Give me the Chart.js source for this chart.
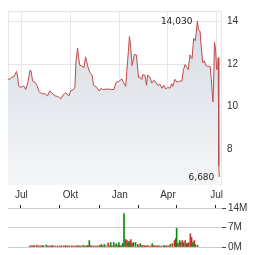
<!DOCTYPE html>
<html lang="de">
<head>
    <meta charset="UTF-8">
    <title>Kurs</title>
    <script src="https://cdn.jsdelivr.net/npm/chart.js"></script>
    <style>
        body {
            margin: 0;
            background: #fff;
        }
        #priceBox {
            position: absolute;
            left: 0;
            top: 0;
            width: 264px;
            height: 205px;
        }
        #volBox {
            position: absolute;
            left: 0;
            top: 200px;
            width: 264px;
            height: 55px;
        }
    </style>
</head>
<body>
    <div id="priceBox"><canvas id="priceChart" width="264" height="205"></canvas></div>
    <div id="volBox"><canvas id="volChart" width="264" height="55"></canvas></div>
    <script>
        // Tage ab 1. Juli
        const monthTicks = [0, 92, 184, 274, 365];
        const monthNames = ['Jul', 'Okt', 'Jan', 'Apr', 'Jul'];

        const priceDays = [-25, -21, -18, -14, -12, -9, -7, -5, -1, 2, 5, 8, 12, 16, 18, 21, 25, 29, 33, 38,
            44, 49, 53, 57, 63, 68, 74, 78, 83, 89, 92, 98, 100, 102, 105, 107, 109, 113, 117, 120,
            124, 128, 132, 135, 141, 145, 149, 152, 160, 169, 173, 177, 182, 188, 191, 195, 197, 200, 202, 204,
            207, 211, 215, 219, 221, 225, 227, 231, 234, 236, 240, 244, 248, 251, 255, 259, 263, 266, 270, 274,
            278, 281, 283, 287, 291, 294, 297, 300, 303, 306, 309, 312, 315, 319, 322, 325, 327, 329, 331, 334,
            336, 339, 342, 345, 348, 350, 353, 355, 358, 359, 361, 363, 365, 367, 368, 369, 370];
        const priceValues = [11.28, 11.3, 11.37, 11.4, 11.5, 11.65, 11.4, 10.96, 10.9, 10.95, 10.95, 10.8, 11.1, 11.7, 11.68, 11.2, 11.15, 11.0, 10.7, 10.6,
            10.6, 10.5, 10.73, 10.64, 10.5, 10.47, 10.36, 10.55, 10.64, 10.5, 10.73, 10.8, 10.9, 12.1, 12.76, 12.3, 11.95, 11.9, 11.83, 12.34,
            11.9, 11.6, 11.5, 11.0, 10.9, 10.73, 10.85, 10.8, 10.82, 10.8, 10.8, 11.14, 11.18, 11.3, 11.12, 10.95, 11.65, 12.6, 13.3, 12.9,
            11.93, 12.45, 12.43, 11.37, 11.4, 11.27, 11.5, 11.47, 11.0, 11.48, 11.4, 11.1, 11.24, 11.15, 11.0, 11.05, 10.86, 11.0, 10.83, 10.9,
            10.86, 11.07, 10.95, 11.28, 11.14, 11.18, 11.2, 11.2, 11.74, 11.97, 11.85, 11.74, 12.43, 12.25, 13.2, 13.1, 13.5, 14.03, 13.6, 13.55,
            12.85, 12.06, 12.15, 11.93, 11.9, 11.9, 11.88, 11.3, 10.22, 10.8, 13.03, 12.67, 11.74, 11.83, 12.3, 7.2, 6.68];
        const priceTicks = [8, 10, 12, 14];

        // Umsatz in Mio. Stück
        const upDays = [-15, 6, 14, 28, 60, 89, 100, 110, 115, 140, 143, 150, 165, 172, 178, 184, 185, 193, 196, 206,
            210, 218, 223, 234, 246, 262, 275, 290, 304, 317, 319, 326, 335, 344, 357, 363];
        const upVol = [0.4, 0.4, 0.7, 0.4, 0.4, 0.4, 0.6, 0.4, 2.3, 0.4, 0.9, 0.9, 1.6, 1.6, 1.2, 1.6, 0.4, 1.3, 12, 1.6,
            0.4, 1.6, 1.6, 1.2, 0.4, 1.2, 0.4, 0.4, 0.9, 3.0, 6.7, 2.3, 1.6, 1.2, 1.6, 0.9];
        const downDays = [-24, -21, -17, -13, -8, -4, 0, 4, 8, 18, 22, 26, 31, 36, 41, 46, 50, 55, 59, 64,
            68, 73, 77, 82, 86, 91, 95, 104, 108, 112, 117, 121, 125, 130, 134, 138, 146, 154, 159, 162,
            168, 175, 181, 187, 190, 200, 203, 208, 212, 215, 228, 230, 237, 240, 244, 250, 253, 258, 265, 268,
            272, 278, 283, 288, 292, 296, 300, 309, 314, 322, 328, 332, 339, 342, 347, 351, 354, 360, 368];
        const downVol = [0.4, 0.4, 0.4, 0.4, 0.6, 0.4, 0.4, 0.4, 0.4, 0.4, 0.4, 0.4, 0.4, 0.4, 0.4, 0.4, 0.4, 0.4, 0.4, 0.4,
            0.4, 0.4, 0.4, 0.4, 0.4, 0.4, 0.4, 0.4, 0.4, 0.4, 0.5, 0.4, 0.4, 0.4, 0.4, 0.4, 0.4, 0.4, 1.4, 0.4,
            0.4, 0.4, 0.4, 0.4, 0.5, 2.7, 2.3, 2.0, 2.7, 1.3, 0.9, 0.4, 0.4, 0.6, 0.4, 0.5, 0.4, 0.4, 0.4, 0.5,
            0.4, 0.4, 0.4, 0.4, 0.4, 0.5, 0.4, 1.2, 2.3, 1.2, 1.6, 2.3, 2.3, 1.2, 1.6, 4.7, 3.4, 2.3, 0.6];
        const volTicks = [0, 7, 14];

        const axisFont = { family: 'Liberation Sans, Arial, sans-serif', size: 10 };

        function points(days, values) {
            return days.map((d, i) => ({ x: d, y: values[i] }));
        }

        // Rahmen um die Zeichenfläche
        const frame = {
            id: 'frame',
            beforeDatasetsDraw(chart, args, opts) {
                const a = chart.chartArea;
                const c = chart.ctx;
                c.save();
                c.strokeStyle = opts.color;
                c.lineWidth = 1;
                c.strokeRect(a.left + 0.5, a.top + 0.5, a.right - a.left - 1, a.bottom - a.top - 1);
                c.restore();
            }
        };

        // Hoch / Tief beschriften
        const extremes = {
            id: 'extremes',
            afterDatasetsDraw(chart) {
                const xs = chart.scales.x;
                const ys = chart.scales.y;
                const hi = priceValues.indexOf(Math.max(...priceValues));
                const lo = priceValues.indexOf(Math.min(...priceValues));
                const c = chart.ctx;
                c.save();
                c.fillStyle = '#222';
                c.font = '9px "DejaVu Sans", sans-serif';
                c.textAlign = 'right';
                c.textBaseline = 'middle';
                [hi, lo].forEach(i => {
                    const label = priceValues[i].toFixed(3).replace('.', ',');
                    c.fillText(label, xs.getPixelForValue(priceDays[i]) - 5, ys.getPixelForValue(priceValues[i]) + 1);
                });
                c.restore();
            }
        };

        new Chart(document.getElementById('priceChart'), {
            type: 'line',
            data: {
                datasets: [{
                    data: points(priceDays, priceValues),
                    borderColor: '#c2494a',
                    borderWidth: 1,
                    pointRadius: 0,
                    tension: 0,
                    fill: 'start',
                    backgroundColor: function(context) {
                        const area = context.chart.chartArea;
                        if (!area) return '#e3e7eb';
                        const g = context.chart.ctx.createLinearGradient(0, area.top, 0, area.bottom);
                        g.addColorStop(0, '#d3dae1');
                        g.addColorStop(1, '#f5f6f8');
                        return g;
                    }
                }]
            },
            options: {
                responsive: false,
                animation: false,
                layout: { padding: { left: 8, top: 7, right: 0, bottom: 0 } },
                plugins: {
                    legend: { display: false },
                    tooltip: { enabled: false },
                    frame: { color: '#e6e6e6' }
                },
                scales: {
                    x: {
                        type: 'linear',
                        min: -25,
                        max: 375,
                        afterBuildTicks: s => { s.ticks = monthTicks.map(v => ({ value: v })); },
                        afterFit: s => { s.height = 20; },
                        grid: { color: '#e6e6e6', drawTicks: false },
                        border: { display: false },
                        ticks: {
                            padding: 4,
                            color: '#333',
                            font: axisFont,
                            maxRotation: 0,
                            callback: v => monthNames[monthTicks.indexOf(v)]
                        }
                    },
                    y: {
                        position: 'right',
                        min: 6.3,
                        max: 14.5,
                        afterBuildTicks: s => { s.ticks = priceTicks.map(v => ({ value: v })); },
                        afterFit: s => { s.width = 42; },
                        grid: { color: '#e6e6e6', drawTicks: false },
                        border: { display: false },
                        ticks: { padding: 5, color: '#333', font: axisFont }
                    }
                }
            },
            plugins: [frame, extremes]
        });

        new Chart(document.getElementById('volChart'), {
            type: 'bar',
            data: {
                datasets: [{
                    data: points(upDays, upVol),
                    backgroundColor: '#0a8a0a',
                    barThickness: 1
                }, {
                    data: points(downDays, downVol),
                    backgroundColor: '#c8302c',
                    barThickness: 1
                }]
            },
            options: {
                responsive: false,
                animation: false,
                layout: { padding: { left: 8, top: 0, right: 0, bottom: 8 } },
                plugins: {
                    legend: { display: false },
                    tooltip: { enabled: false }
                },
                datasets: { bar: { grouped: false } },
                scales: {
                    x: {
                        type: 'linear',
                        position: 'top',
                        min: -25,
                        max: 375,
                        afterBuildTicks: s => { s.ticks = monthTicks.map(v => ({ value: v })); },
                        afterFit: s => { s.height = 7; },
                        grid: { drawOnChartArea: false, drawTicks: true, tickLength: 3, tickColor: '#222' },
                        border: { display: false },
                        ticks: { display: false }
                    },
                    y: {
                        position: 'right',
                        min: 0,
                        max: 14,
                        afterBuildTicks: s => { s.ticks = volTicks.map(v => ({ value: v })); },
                        afterFit: s => { s.width = 42; },
                        grid: { color: '#cccccc', tickLength: 4, tickColor: '#444' },
                        border: { display: false },
                        ticks: { padding: 2, color: '#333', font: axisFont, callback: v => v + 'M' }
                    }
                }
            }
        });
    </script>
</body>
</html>
